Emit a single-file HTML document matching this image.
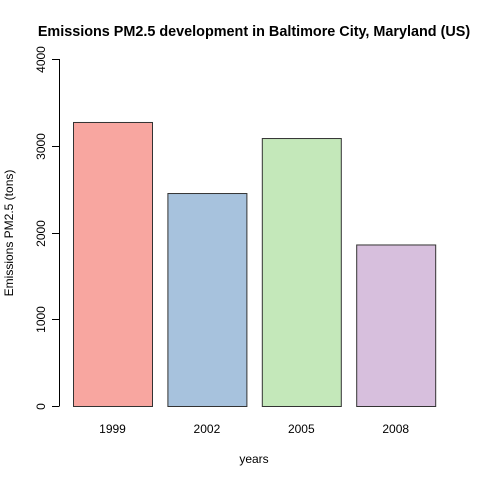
<!DOCTYPE html>
<html><head><meta charset="utf-8"><style>
body{margin:0;background:#fff}
svg text{font-family:"Liberation Sans",Arial,sans-serif;fill:#000}
</style></head><body>
<svg width="480" height="480">
<text x="254" y="36" font-size="14.4" font-weight="bold" text-anchor="middle">Emissions PM2.5 development in Baltimore City, Maryland (US)</text>
<text x="254" y="463" font-size="12" text-anchor="middle">years</text>
<text transform="translate(13,233) rotate(-90)" font-size="12" text-anchor="middle">Emissions PM2.5 (tons)</text>
<g id="yaxis"></g>
<g id="bars"></g>
<g id="xlabels"></g>
</svg>
<script>
const categories=["1999","2002","2005","2008"];
const values=[3274,2455,3089,1862];
const colors=["#F8A6A0","#A7C2DD","#C4E8BA","#D7BFDD"];
const yTicks=[0,1000,2000,3000,4000];
const NS="http://www.w3.org/2000/svg";
const y0=406,y1=59,ymax=4000;
function yScale(v){return y0-(v/ymax)*(y0-y1);}
function xLeft(i){return 73+i*94.4;}
const bw=79;
function mk(t,a,p){const e=document.createElementNS(NS,t);for(const k in a)e.setAttribute(k,a[k]);p.appendChild(e);return e;}
const ya=document.getElementById('yaxis');
const axl=mk('line',{x1:59.5,x2:59.5,y1:yScale(0),y2:yScale(4000),stroke:'#000'},ya);


yTicks.forEach(v=>{
  const y=Math.round(yScale(v))+0.5;
  const t=mk('line',{x1:52,x2:59.5,y1:y,y2:y,stroke:'#000'},ya);
  
  
  const l=mk('text',{transform:`translate(45,${y}) rotate(-90)`,'font-size':12,'text-anchor':'middle'},ya);
  l.textContent=v;
  
  
});
const bg=document.getElementById('bars'),xg=document.getElementById('xlabels');
values.forEach((v,i)=>{
  const r=mk('rect',{x:xLeft(i)+0.5,y:yScale(v)+0.5,width:bw,height:yScale(0)-yScale(v),fill:colors[i],stroke:'#333','stroke-width':1},bg);
  
  
  const t=mk('text',{x:xLeft(i)+bw/2,y:433,'font-size':12,'text-anchor':'middle'},xg);
  t.textContent=categories[i];
  
  
});
</script>
</body></html>
